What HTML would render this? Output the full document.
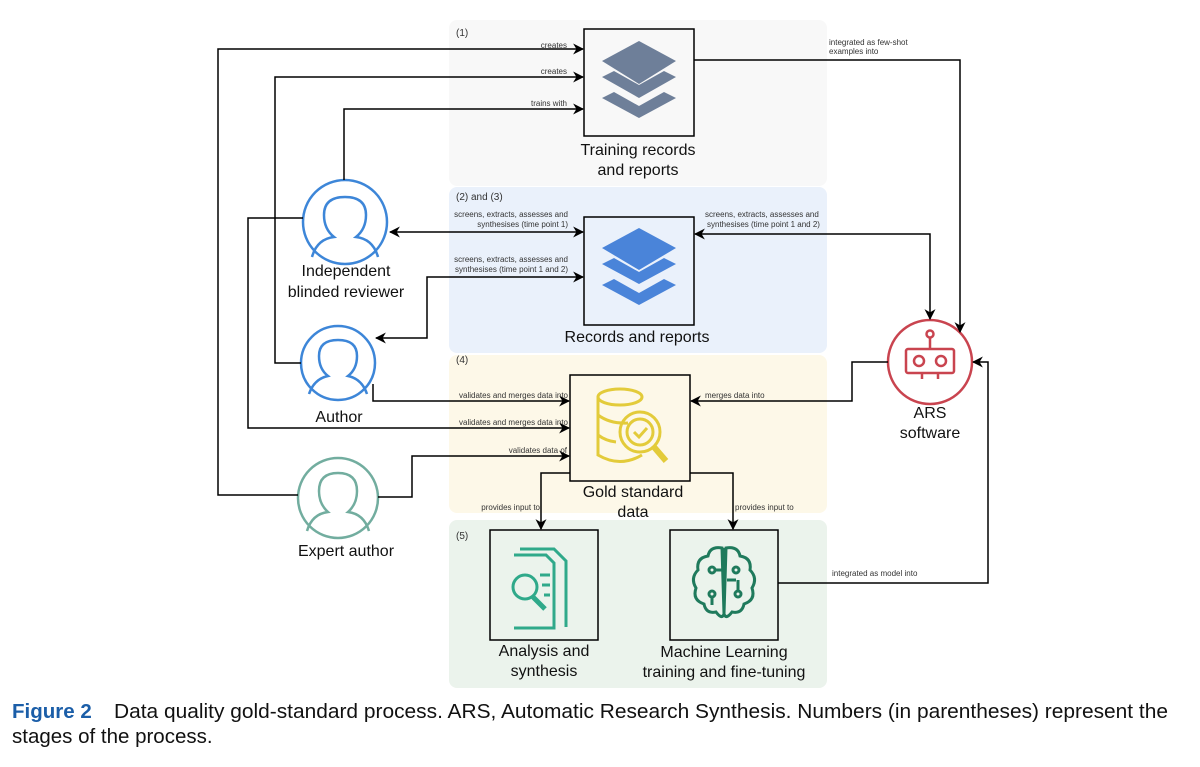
<!DOCTYPE html>
<html><head><meta charset="utf-8"><style>
body{margin:0;background:#fff;}
svg text{font-family:"Liberation Sans",sans-serif;}
</style></head><body>
<svg width="1200" height="762" viewBox="0 0 1200 762" xmlns="http://www.w3.org/2000/svg">
<defs>
<marker id="a" viewBox="0 0 10 10" refX="9" refY="5" markerWidth="11" markerHeight="11" orient="auto-start-reverse" markerUnits="userSpaceOnUse"><path d="M0,0 L10,5 L0,10 L3,5 z" fill="#000"/></marker>
</defs>
<rect x="449" y="20" width="378" height="166" rx="8" fill="#f8f8f8"/>
<rect x="449" y="187" width="378" height="166" rx="8" fill="#eaf1fb"/>
<rect x="449" y="355" width="378" height="158" rx="8" fill="#fdf8e8"/>
<rect x="449" y="520" width="378" height="168" rx="8" fill="#ebf3ec"/>
<g font-size="10" fill="#333">
<text x="456" y="36">(1)</text>
<text x="456" y="200">(2) and (3)</text>
<text x="456" y="363">(4)</text>
<text x="456" y="539">(5)</text>
</g>
<g fill="none" stroke="#000" stroke-width="1.5">
<rect x="584" y="29" width="110" height="107"/>
<rect x="584" y="217" width="110" height="108"/>
<rect x="570" y="375" width="120" height="106"/>
<rect x="490" y="530" width="108" height="110"/>
<rect x="670" y="530" width="108" height="110"/>
</g>
<g fill="#6e7f99">
<path d="M639,41 L676,61 L639,84 L602,61 z"/>
<path d="M602,77 L614,71 L639,85 L664,71 L676,77 L639,98 z"/>
<path d="M602,98 L614,92 L639,106 L664,92 L676,98 L639,118 z"/>
</g>
<g fill="#4a84d9">
<path d="M639,228 L676,248 L639,270 L602,248 z"/>
<path d="M602,264 L614,258 L639,272 L664,258 L676,264 L639,284 z"/>
<path d="M602,285 L614,279 L639,293 L664,279 L676,285 L639,305 z"/>
</g>
<g fill="none" stroke="#e3cb3a" stroke-width="3">
<ellipse cx="620" cy="397" rx="22" ry="8"/>
<path d="M598,397 V455 Q620,468 642,455"/>
<path d="M598,415 Q610,424 628,423 M598,435 Q606,441 616,442"/>
<circle cx="640" cy="432" r="20"/><circle cx="640" cy="432" r="13"/>
<path d="M634,432 l5,5 l8,-9"/>
<path d="M654,447 l12,14" stroke-width="6"/>
</g>
<g fill="none" stroke="#2fa98a" stroke-width="3">
<path d="M514,555 h32 l8,8 v65 h-40"/>
<path d="M520,549 h34 l12,12 v66"/>
<circle cx="525" cy="587" r="12"/>
<path d="M533,597 l12,12" stroke-width="5"/>
<path d="M540,575 h10 M542,585 h8 M544,595 h6"/>
</g>
<g fill="none" stroke="#1f7a5c" stroke-width="3">
<path d="M722,548 q-12,-2 -14,8 q-12,2 -10,14 q-8,8 -2,18 q-4,12 8,16 q2,10 12,8 q6,8 8,2 z"/>
<path d="M726,548 q12,-2 14,8 q12,2 10,14 q8,8 2,18 q4,12 -8,16 q-2,10 -12,8 q-6,8 -8,2 z"/>
<path d="M724,548 v66"/>
<circle cx="712" cy="570" r="3"/><circle cx="736" cy="570" r="3"/><circle cx="712" cy="594" r="3"/><circle cx="738" cy="594" r="3"/>
<path d="M715,570 h9 M712,597 v8 M727,580 h9 M738,591 v-11"/>
</g>
<g fill="none" stroke-width="2.5">
<g stroke="#3d86d8">
<circle cx="345" cy="222" r="42"/>
<path d="M312,257 q5,-18 22,-20 q-10,-8 -10,-22 q0,-18 21,-18 q21,0 21,18 q0,14 -10,22 q17,2 22,20"/>
<circle cx="338" cy="363" r="37"/>
<path d="M309,394 q5,-15 19,-18 q-9,-7 -9,-20 q0,-16 19,-16 q19,0 19,16 q0,13 -9,20 q14,3 19,18"/>
</g>
<g stroke="#72ad9f">
<circle cx="338" cy="498" r="40"/>
<path d="M307,531 q5,-17 21,-19 q-9,-8 -9,-21 q0,-18 19,-18 q19,0 19,18 q0,13 -9,21 q16,2 21,19"/>
</g>
<g stroke="#c9444f">
<circle cx="930" cy="362" r="42"/>
<rect x="906" y="349" width="48" height="24" rx="2"/>
<circle cx="919" cy="361" r="5"/><circle cx="941" cy="361" r="5"/>
<circle cx="930" cy="334" r="3.5"/><path d="M930,338 v11 M922,373 v6 M938,373 v6"/>
</g>
</g>
<g fill="none" stroke="#000" stroke-width="1.5">
<path d="M298,495 H218 V49 H583" marker-end="url(#a)"/>
<path d="M301,363 H275 V77 H583" marker-end="url(#a)"/>
<path d="M344,180 V109 H583" marker-end="url(#a)"/>
<path d="M303,218 H248 V428 H569" marker-end="url(#a)"/>
<path d="M390,232 H583" marker-start="url(#a)" marker-end="url(#a)"/>
<path d="M583,277 H427 V338 H376" marker-start="url(#a)" marker-end="url(#a)"/>
<path d="M373,384 V401 H569" marker-end="url(#a)"/>
<path d="M378,497 H412 V456 H569" marker-end="url(#a)"/>
<path d="M694,60 H960 V332" marker-end="url(#a)"/>
<path d="M695,234 H930 V319" marker-start="url(#a)" marker-end="url(#a)"/>
<path d="M888,362 H852 V401 H691" marker-end="url(#a)"/>
<path d="M570,473 H541 V529" marker-end="url(#a)"/>
<path d="M690,473 H733 V529" marker-end="url(#a)"/>
<path d="M778,583 H988 V362 H973" marker-end="url(#a)"/>
</g>
<g font-size="8" fill="#333" text-anchor="end">
<text x="567" y="48">creates</text>
<text x="567" y="74">creates</text>
<text x="567" y="106">trains with</text>
<text x="568" y="217">screens, extracts, assesses and</text>
<text x="568" y="227">synthesises (time point 1)</text>
<text x="568" y="262">screens, extracts, assesses and</text>
<text x="568" y="272">synthesises (time point 1 and 2)</text>
<text x="568" y="398">validates and merges data into</text>
<text x="568" y="425">validates and merges data into</text>
<text x="567" y="453">validates data of</text>
<text x="540" y="510">provides input to</text>
</g>
<g font-size="8" fill="#333">
<text x="705" y="217">screens, extracts, assesses and</text>
<text x="707" y="227">synthesises (time point 1 and 2)</text>
<text x="829" y="45">integrated as few-shot</text>
<text x="829" y="54">examples into</text>
<text x="705" y="398">merges data into</text>
<text x="735" y="510">provides input to</text>
<text x="832" y="576">integrated as model into</text>
</g>
<g font-size="16" fill="#111" text-anchor="middle">
<text x="638" y="155">Training records</text>
<text x="638" y="175">and reports</text>
<text x="637" y="342">Records and reports</text>
<text x="346" y="276">Independent</text>
<text x="346" y="297">blinded reviewer</text>
<text x="339" y="422">Author</text>
<text x="346" y="556">Expert author</text>
<text x="930" y="418">ARS</text>
<text x="930" y="438">software</text>
<text x="633" y="497">Gold standard</text>
<text x="633" y="517">data</text>
<text x="544" y="656">Analysis and</text>
<text x="544" y="676">synthesis</text>
<text x="724" y="657">Machine Learning</text>
<text x="724" y="677">training and fine-tuning</text>
</g>
<text x="12" y="718" font-size="20.5" fill="#1b5ea8" font-weight="bold">Figure 2</text>
<text x="114" y="718" font-size="20.5" fill="#111" textLength="1054" lengthAdjust="spacingAndGlyphs">Data quality gold-standard process. ARS, Automatic Research Synthesis. Numbers (in parentheses) represent the</text>
<text x="12" y="743" font-size="20.5" fill="#111">stages of the process.</text>
</svg>
</body></html>
